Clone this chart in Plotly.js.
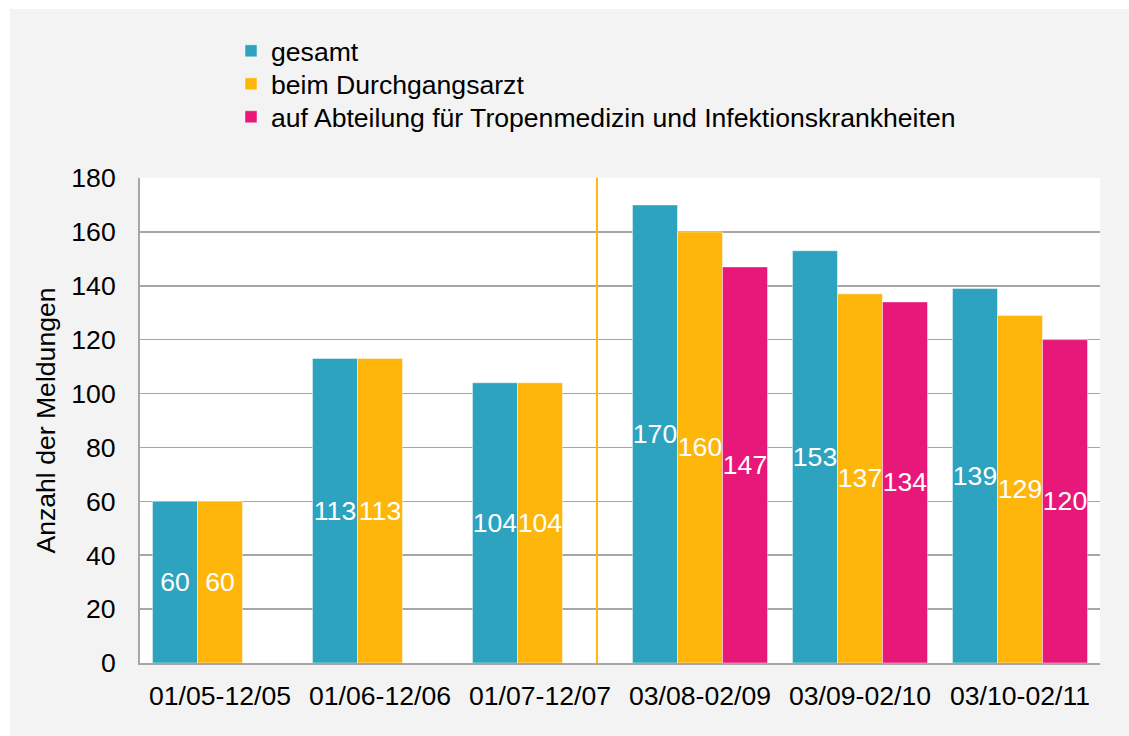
<!DOCTYPE html>
<html>
<head>
<meta charset="utf-8">
<script src="https://cdn.plot.ly/plotly-3.0.1.min.js"></script>
<style>html,body{margin:0;padding:0;background:#fff;}#chart{width:1129px;height:736px;}</style>
</head>
<body>
<div id="chart"></div>
<script>
var categories = ['01/05-12/05', '01/06-12/06', '01/07-12/07', '03/08-02/09', '03/09-02/10', '03/10-02/11'];
var gesamt = [60, 113, 104, 170, 153, 139];
var durchgangsarzt = [60, 113, 104, 160, 137, 129];
var tropenmedizin = [null, null, null, 147, 134, 120];
var seriesNames = ['gesamt', 'beim Durchgangsarzt', 'auf Abteilung für Tropenmedizin und Infektionskrankheiten'];
var seriesColors = ['#2da3bf', '#ffb60b', '#e8177a'];
var yTicks = [0, 20, 40, 60, 80, 100, 120, 140, 160, 180];

var FONT = 'Liberation Sans, Arial, sans-serif';
var FS = 26.6;
var legendIds = ['legend', 'legend2', 'legend3'];
function mk(vals, i) {
  return {
    type: 'bar',
    name: seriesNames[i],
    legend: legendIds[i],
    x: categories,
    y: vals,
    text: vals.map(function (v) { return v == null ? '' : String(v); }),
    textposition: 'inside',
    insidetextanchor: 'middle',
    textangle: 0,
    constraintext: 'none',
    insidetextfont: {family: FONT, size: FS, color: '#ffffff'},
    marker: {color: seriesColors[i], line: {color: 'rgba(255,255,255,0.45)', width: 1}},
    hoverinfo: 'x+y+name'
  };
}
var data = [mk(gesamt, 0), mk(durchgangsarzt, 1), mk(tropenmedizin, 2)];

function leg(y) {
  return {
    x: 0.0948, y: y, xanchor: 'left', yanchor: 'top',
    bgcolor: 'rgba(0,0,0,0)',
    font: {family: FONT, size: FS, color: '#000000'}
  };
}

var layout = {
  width: 1129, height: 736,
  margin: {l: 140, r: 29, t: 178, b: 73},
  paper_bgcolor: '#f3f3f3',
  plot_bgcolor: '#ffffff',
  font: {family: FONT, size: FS, color: '#000000'},
  barmode: 'group',
  bargap: 0.156,
  bargroupgap: 0,
  showlegend: true,
  legend: leg(1.3113),
  legend2: leg(1.2433),
  legend3: leg(1.1753),
  xaxis: {
    type: 'category',
    showgrid: false,
    showline: true, linecolor: '#a6a6a6', linewidth: 2,
    ticks: '',
    ticklabelstandoff: 8,
    tickfont: {family: FONT, size: FS, color: '#000000'},
    fixedrange: true
  },
  yaxis: {
    range: [0, 180],
    tickvals: yTicks,
    ticktext: yTicks.map(String),
    showgrid: true, gridcolor: '#a6a6a6', gridwidth: 1.5,
    zeroline: false,
    showline: true, linecolor: '#a6a6a6', linewidth: 2,
    ticks: '',
    ticklabelstandoff: 17,
    tickfont: {family: FONT, size: FS, color: '#000000'},
    title: {text: 'Anzahl der Meldungen', font: {family: FONT, size: FS, color: '#000000'}, standoff: 8},
    fixedrange: true
  },
  shapes: [
    {type: 'rect', xref: 'paper', yref: 'paper', x0: -0.3, x1: -0.1354, y0: -0.5, y1: 1.7,
     fillcolor: '#ffffff', line: {width: 0}, layer: 'below'},
    {type: 'rect', xref: 'paper', yref: 'paper', x0: -0.3, x1: 1.3, y0: 1.3485, y1: 1.7,
     fillcolor: '#ffffff', line: {width: 0}, layer: 'below'},
    {type: 'line', xref: 'x', yref: 'paper', x0: 2.356, x1: 2.356, y0: 0, y1: 1,
     line: {color: '#ffb60b', width: 2}}
  ]
};

Plotly.newPlot('chart', data, layout, {displayModeBar: false, staticPlot: true});
</script>
</body>
</html>
